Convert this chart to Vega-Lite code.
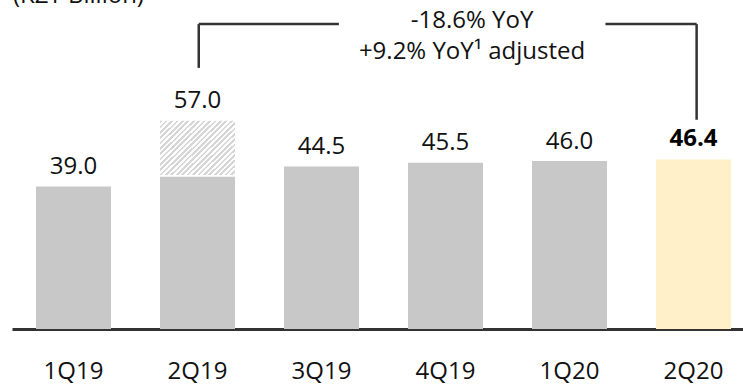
{
  "$schema": "https://vega.github.io/schema/vega-lite/v6.json",
  "autosize": "none",
  "width": 731,
  "height": 329,
  "padding": {"left": 12, "top": 0, "right": 0, "bottom": 57},
  "background": "white",
  "config": {"view": {"stroke": null}, "font": "Open Sans"},
  "datasets": {
    "bars": [
      {"q": "1Q19", "total": 39.0, "base": 39.0, "hl": "n", "lab": "39.0"},
      {"q": "2Q19", "total": 57.0, "base": 41.7, "hatch": 42.2, "hl": "n", "lab": "57.0"},
      {"q": "3Q19", "total": 44.5, "base": 44.5, "hl": "n", "lab": "44.5"},
      {"q": "4Q19", "total": 45.5, "base": 45.5, "hl": "n", "lab": "45.5"},
      {"q": "1Q20", "total": 46.0, "base": 46.0, "hl": "n", "lab": "46.0"},
      {"q": "2Q20", "total": 46.4, "base": 46.4, "hl": "y", "lab": "46.4"}
    ],
    "lines": [
      {"x": 2.01, "y": 71.5, "x2": 2.01, "y2": 83.5},
      {"x": 2.01, "y": 83.5, "x2": 3.14, "y2": 83.5},
      {"x": 5.29, "y": 83.5, "x2": 6.025, "y2": 83.5},
      {"x": 6.025, "y": 83.5, "x2": 6.025, "y2": 57.3}
    ],
    "notes": [
      {"x": 4.214, "y": 82.3, "t": "-18.6% YoY"},
      {"x": 4.214, "y": 74.0, "t": "+9.2% YoY¹ adjusted"}
    ],
    "heading": [
      {"x": 0.512, "y": 89.15, "t": "(KZT Billion)"}
    ]
  },
  "resolve": {"scale": {"x": "independent"}},
  "layer": [
    {
      "data": {"name": "bars"},
      "mark": {"type": "bar"},
      "encoding": {
        "x": {"field": "q", "type": "nominal", "sort": null,
          "scale": {"type": "band", "domain": ["1Q19", "2Q19", "3Q19", "4Q19", "1Q20", "2Q20"], "paddingInner": 0.395, "paddingOuter": 0.145, "align": 0.667},
          "axis": {"title": null, "labelAngle": 0, "domain": true, "domainColor": "#333333", "domainWidth": 3,
            "ticks": false, "tickSize": 0, "labelFontSize": 24, "labelFont": "Open Sans", "labelColor": "#111111",
            "labelBaseline": "alphabetic", "labelPadding": 49, "grid": false}},
        "y": {"field": "base", "type": "quantitative", "scale": {"domain": [0, 90.1], "nice": false, "zero": true}, "axis": null},
        "color": {"field": "hl", "type": "nominal", "scale": {"domain": ["n", "y"], "range": ["#c8c8c8", "#fff0c9"]}, "legend": null}
      }
    },
    {
      "data": {"name": "bars"},
      "transform": [{"filter": "isValid(datum.hatch)"}],
      "mark": {"type": "bar", "fill": {
        "gradient": "linear", "x1": 0, "y1": 0, "x2": 1.128, "y2": 0.827,
        "stops": [
          {"offset": 0, "color": "#d6d6d6"}, {"offset": 0.0208, "color": "#d6d6d6"}, {"offset": 0.0208, "color": "#ffffff"}, {"offset": 0.0417, "color": "#ffffff"},
          {"offset": 0.0417, "color": "#d6d6d6"}, {"offset": 0.0625, "color": "#d6d6d6"}, {"offset": 0.0625, "color": "#ffffff"}, {"offset": 0.0833, "color": "#ffffff"},
          {"offset": 0.0833, "color": "#d6d6d6"}, {"offset": 0.1042, "color": "#d6d6d6"}, {"offset": 0.1042, "color": "#ffffff"}, {"offset": 0.125, "color": "#ffffff"},
          {"offset": 0.125, "color": "#d6d6d6"}, {"offset": 0.1458, "color": "#d6d6d6"}, {"offset": 0.1458, "color": "#ffffff"}, {"offset": 0.1667, "color": "#ffffff"},
          {"offset": 0.1667, "color": "#d6d6d6"}, {"offset": 0.1875, "color": "#d6d6d6"}, {"offset": 0.1875, "color": "#ffffff"}, {"offset": 0.2083, "color": "#ffffff"},
          {"offset": 0.2083, "color": "#d6d6d6"}, {"offset": 0.2292, "color": "#d6d6d6"}, {"offset": 0.2292, "color": "#ffffff"}, {"offset": 0.25, "color": "#ffffff"},
          {"offset": 0.25, "color": "#d6d6d6"}, {"offset": 0.2708, "color": "#d6d6d6"}, {"offset": 0.2708, "color": "#ffffff"}, {"offset": 0.2917, "color": "#ffffff"},
          {"offset": 0.2917, "color": "#d6d6d6"}, {"offset": 0.3125, "color": "#d6d6d6"}, {"offset": 0.3125, "color": "#ffffff"}, {"offset": 0.3333, "color": "#ffffff"},
          {"offset": 0.3333, "color": "#d6d6d6"}, {"offset": 0.3542, "color": "#d6d6d6"}, {"offset": 0.3542, "color": "#ffffff"}, {"offset": 0.375, "color": "#ffffff"},
          {"offset": 0.375, "color": "#d6d6d6"}, {"offset": 0.3958, "color": "#d6d6d6"}, {"offset": 0.3958, "color": "#ffffff"}, {"offset": 0.4167, "color": "#ffffff"},
          {"offset": 0.4167, "color": "#d6d6d6"}, {"offset": 0.4375, "color": "#d6d6d6"}, {"offset": 0.4375, "color": "#ffffff"}, {"offset": 0.4583, "color": "#ffffff"},
          {"offset": 0.4583, "color": "#d6d6d6"}, {"offset": 0.4792, "color": "#d6d6d6"}, {"offset": 0.4792, "color": "#ffffff"}, {"offset": 0.5, "color": "#ffffff"},
          {"offset": 0.5, "color": "#d6d6d6"}, {"offset": 0.5208, "color": "#d6d6d6"}, {"offset": 0.5208, "color": "#ffffff"}, {"offset": 0.5417, "color": "#ffffff"},
          {"offset": 0.5417, "color": "#d6d6d6"}, {"offset": 0.5625, "color": "#d6d6d6"}, {"offset": 0.5625, "color": "#ffffff"}, {"offset": 0.5833, "color": "#ffffff"},
          {"offset": 0.5833, "color": "#d6d6d6"}, {"offset": 0.6042, "color": "#d6d6d6"}, {"offset": 0.6042, "color": "#ffffff"}, {"offset": 0.625, "color": "#ffffff"},
          {"offset": 0.625, "color": "#d6d6d6"}, {"offset": 0.6458, "color": "#d6d6d6"}, {"offset": 0.6458, "color": "#ffffff"}, {"offset": 0.6667, "color": "#ffffff"},
          {"offset": 0.6667, "color": "#d6d6d6"}, {"offset": 0.6875, "color": "#d6d6d6"}, {"offset": 0.6875, "color": "#ffffff"}, {"offset": 0.7083, "color": "#ffffff"},
          {"offset": 0.7083, "color": "#d6d6d6"}, {"offset": 0.7292, "color": "#d6d6d6"}, {"offset": 0.7292, "color": "#ffffff"}, {"offset": 0.75, "color": "#ffffff"},
          {"offset": 0.75, "color": "#d6d6d6"}, {"offset": 0.7708, "color": "#d6d6d6"}, {"offset": 0.7708, "color": "#ffffff"}, {"offset": 0.7917, "color": "#ffffff"},
          {"offset": 0.7917, "color": "#d6d6d6"}, {"offset": 0.8125, "color": "#d6d6d6"}, {"offset": 0.8125, "color": "#ffffff"}, {"offset": 0.8333, "color": "#ffffff"},
          {"offset": 0.8333, "color": "#d6d6d6"}, {"offset": 0.8542, "color": "#d6d6d6"}, {"offset": 0.8542, "color": "#ffffff"}, {"offset": 0.875, "color": "#ffffff"},
          {"offset": 0.875, "color": "#d6d6d6"}, {"offset": 0.8958, "color": "#d6d6d6"}, {"offset": 0.8958, "color": "#ffffff"}, {"offset": 0.9167, "color": "#ffffff"},
          {"offset": 0.9167, "color": "#d6d6d6"}, {"offset": 0.9375, "color": "#d6d6d6"}, {"offset": 0.9375, "color": "#ffffff"}, {"offset": 0.9583, "color": "#ffffff"},
          {"offset": 0.9583, "color": "#d6d6d6"}, {"offset": 0.9792, "color": "#d6d6d6"}, {"offset": 0.9792, "color": "#ffffff"}, {"offset": 1, "color": "#ffffff"}
        ]
      }},
      "encoding": {
        "x": {"field": "q", "type": "nominal", "sort": null,
          "scale": {"type": "band", "domain": ["1Q19", "2Q19", "3Q19", "4Q19", "1Q20", "2Q20"], "paddingInner": 0.395, "paddingOuter": 0.145, "align": 0.667}, "axis": null},
        "y": {"field": "hatch", "type": "quantitative", "scale": {"domain": [0, 90.1], "nice": false, "zero": true}, "axis": null},
        "y2": {"field": "total"}
      }
    },
    {
      "data": {"name": "bars"},
      "transform": [{"filter": "datum.hl == 'n'"}],
      "mark": {"type": "text", "align": "center", "baseline": "alphabetic", "dy": -12.5, "fontSize": 24, "font": "Open Sans", "color": "#111111"},
      "encoding": {
        "x": {"field": "q", "type": "nominal", "sort": null,
          "scale": {"type": "band", "domain": ["1Q19", "2Q19", "3Q19", "4Q19", "1Q20", "2Q20"], "paddingInner": 0.395, "paddingOuter": 0.145, "align": 0.667}, "axis": null},
        "y": {"field": "total", "type": "quantitative", "scale": {"domain": [0, 90.1], "nice": false, "zero": true}, "axis": null},
        "text": {"field": "lab"}
      }
    },
    {
      "data": {"name": "bars"},
      "transform": [{"filter": "datum.hl == 'y'"}],
      "mark": {"type": "text", "align": "center", "baseline": "alphabetic", "dy": -13.5, "fontSize": 24, "font": "Open Sans", "fontWeight": "bold", "color": "#000000"},
      "encoding": {
        "x": {"field": "q", "type": "nominal", "sort": null,
          "scale": {"type": "band", "domain": ["1Q19", "2Q19", "3Q19", "4Q19", "1Q20", "2Q20"], "paddingInner": 0.395, "paddingOuter": 0.145, "align": 0.667}, "axis": null},
        "y": {"field": "total", "type": "quantitative", "scale": {"domain": [0, 90.1], "nice": false, "zero": true}, "axis": null},
        "text": {"field": "lab"}
      }
    },
    {
      "data": {"name": "lines"},
      "mark": {"type": "rule", "color": "#333333", "strokeWidth": 2.5},
      "encoding": {
        "x": {"field": "x", "type": "quantitative", "scale": {"domain": [0.504, 6.399], "nice": false, "zero": false}, "axis": null},
        "x2": {"field": "x2"},
        "y": {"field": "y", "type": "quantitative", "scale": {"domain": [0, 90.1], "nice": false, "zero": true}, "axis": null},
        "y2": {"field": "y2"}
      }
    },
    {
      "data": {"name": "notes"},
      "mark": {"type": "text", "align": "center", "baseline": "alphabetic", "fontSize": 24, "font": "Open Sans", "color": "#111111"},
      "encoding": {
        "x": {"field": "x", "type": "quantitative", "scale": {"domain": [0.504, 6.399], "nice": false, "zero": false}, "axis": null},
        "y": {"field": "y", "type": "quantitative", "scale": {"domain": [0, 90.1], "nice": false, "zero": true}, "axis": null},
        "text": {"field": "t"}
      }
    },
    {
      "data": {"name": "heading"},
      "mark": {"type": "text", "align": "left", "baseline": "alphabetic", "fontSize": 24, "font": "Open Sans", "color": "#111111"},
      "encoding": {
        "x": {"field": "x", "type": "quantitative", "scale": {"domain": [0.504, 6.399], "nice": false, "zero": false}, "axis": null},
        "y": {"field": "y", "type": "quantitative", "scale": {"domain": [0, 90.1], "nice": false, "zero": true}, "axis": null},
        "text": {"field": "t"}
      }
    }
  ]
}
